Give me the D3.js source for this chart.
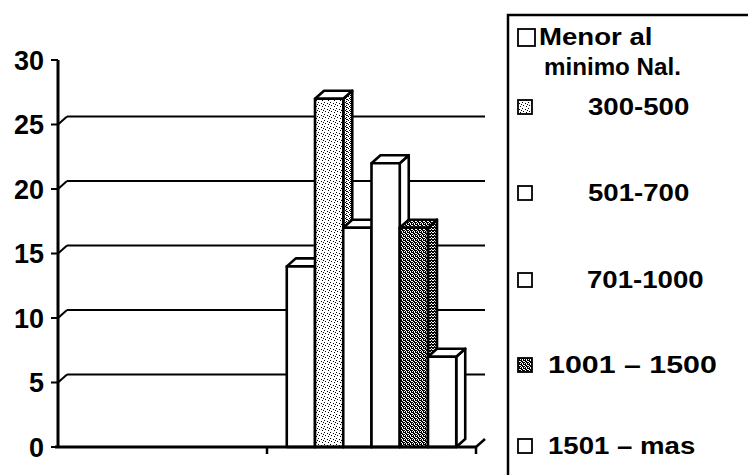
<!DOCTYPE html>
<html><head><meta charset="utf-8">
<script src="https://cdn.jsdelivr.net/npm/d3@7"></script>
<style>body{margin:0;background:#fff}svg{display:block}</style>
</head><body><svg id="c" width="748" height="475"></svg>
<script>
// ---- data ----
const categories = ["Menor al minimo Nal.", "300-500", "501-700", "701-1000", "1001 – 1500", "1501 – mas"];
const values = [14, 27, 17, 22, 17, 7];
const fills = ["white", "light", "white", "white", "dark", "white"];
const yTickValues = [0, 5, 10, 15, 20, 25, 30];
const gridValues = [5, 10, 15, 20, 25];
const xGroups = ["", "grupo"];
const legendLines = [["Menor al", "minimo Nal."], ["300-500"], ["501-700"], ["701-1000"], ["1001 – 1500"], ["1501 – mas"]];

// ---- layout ----
const svg = d3.select("#c");
const left = 58, right = 476, floorY = 447, topY = 60;
const dx = 9, dy = -8;
const FONT = "'Liberation Sans', Arial, Helvetica, sans-serif";

const y = d3.scaleLinear().domain([0, 30]).range([floorY, topY]);
const xg = d3.scaleBand().domain(xGroups).range([left, right]).padding(0);
const xs = d3.scaleBand().domain(categories).range([0, xg.bandwidth()]).paddingInner(0).paddingOuter(0.7);

// ---- patterns ----
const defs = svg.append("defs");
function pattern(id, size, dots) {
  const p = defs.append("pattern").attr("id", id).attr("patternUnits", "userSpaceOnUse")
    .attr("width", size).attr("height", size);
  p.append("rect").attr("width", size).attr("height", size).attr("fill", "#fff");
  dots.forEach(d => p.append("rect").attr("x", d[0]).attr("y", d[1]).attr("width", 1).attr("height", 1).attr("fill", "#000"));
}
pattern("light", 6, [[0,0],[3,1],[1,3],[4,4],[5,2]]);
pattern("lightSide", 4, [[0,0],[2,1],[1,2],[3,3],[2,3]]);
pattern("dark", 4, [[0,0],[1,0],[3,0],[1,1],[2,1],[0,2],[2,2],[3,2],[1,3],[3,3]]);
pattern("darkSide", 3, [[0,0],[1,0],[2,1],[0,2],[1,2],[2,2]]);
const fillFront = f => f === "light" ? "url(#light)" : f === "dark" ? "url(#dark)" : "#fff";
const fillSide = f => f === "light" ? "url(#lightSide)" : f === "dark" ? "url(#darkSide)" : "#fff";

// ---- back wall gridlines ----
const g = svg.append("g").attr("stroke", "#000").attr("fill", "none");
gridValues.forEach(v => {
  g.append("line").attr("x1", left + dx).attr("x2", right + dx)
    .attr("y1", y(v) + dy).attr("y2", y(v) + dy).attr("stroke-width", 2.2);
  g.append("line").attr("x1", left).attr("y1", y(v)).attr("x2", left + dx).attr("y2", y(v) + dy).attr("stroke-width", 2);
});

// ---- bars ----
const bars = svg.append("g");
categories.forEach((c, i) => {
  const xl = xg(xGroups[1]) + xs(c), w = xs.bandwidth(), xr = xl + w;
  const yt = y(values[i]), yb = floorY;
  const b = bars.append("g").attr("stroke", "#000").attr("stroke-width", 2.6).attr("stroke-linejoin", "round");
  b.append("path").attr("d", `M${xr},${yb}L${xr},${yt}L${xr+dx},${yt+dy}L${xr+dx},${yb+dy}Z`).attr("fill", fillSide(fills[i]));
  b.append("path").attr("d", `M${xl},${yt}L${xl+dx},${yt+dy}L${xr+dx},${yt+dy}L${xr},${yt}Z`).attr("fill", fills[i] === "dark" ? "url(#dark)" : "#fff");
  b.append("rect").attr("x", xl).attr("y", yt).attr("width", w).attr("height", yb - yt).attr("fill", fillFront(fills[i]));
});

// ---- axes ----
const ax = svg.append("g").attr("stroke", "#000");
ax.append("line").attr("x1", left).attr("x2", left).attr("y1", topY).attr("y2", floorY).attr("stroke-width", 3);
yTickValues.forEach(v => {
  ax.append("line").attr("x1", left - 7).attr("x2", left).attr("y1", y(v)).attr("y2", y(v)).attr("stroke-width", 2);
});
ax.append("line").attr("x1", left - 3).attr("x2", right).attr("y1", floorY).attr("y2", floorY).attr("stroke-width", 3);
xGroups.forEach((gname, i) => {
  const xx = xg(gname) + xg.bandwidth();
  ax.append("line").attr("x1", xx).attr("x2", xx).attr("y1", floorY).attr("y2", floorY + 7).attr("stroke-width", 2.5);
});
ax.append("line").attr("x1", right).attr("y1", floorY).attr("x2", right + dx).attr("y2", floorY + dy).attr("stroke-width", 2.5);

svg.append("g").selectAll("text").data(yTickValues).join("text")
  .attr("x", 44).attr("y", d => y(d) + 9.5).attr("text-anchor", "end")
  .attr("font-family", FONT).attr("font-weight", "bold").attr("font-size", 27).attr("fill", "#000")
  .text(d => d);

// ---- legend ----
const lg = svg.append("g");
lg.append("path").attr("d", "M508,480L508,15L750,15").attr("fill", "none").attr("stroke", "#000").attr("stroke-width", 2.5);
const legendRows = [
  {sx: 518, sy: 29, ss: 17, tx: 539, ty: 45, k: [1.2, 1.05]},
  {sx: 518, sy: 100, ss: 14, tx: 588, ty: 115, k: [1.2]},
  {sx: 518, sy: 186, ss: 14, tx: 588, ty: 201, k: [1.2]},
  {sx: 518, sy: 273, ss: 14, tx: 587, ty: 288, k: [1.2]},
  {sx: 518, sy: 358, ss: 14, tx: 548, ty: 373, k: [1.32]},
  {sx: 518, sy: 439, ss: 14, tx: 548, ty: 454, k: [1.2]}
];
legendLines.forEach((lines, i) => {
  const r = legendRows[i];
  lg.append("rect").attr("x", r.sx).attr("y", r.sy).attr("width", r.ss).attr("height", r.ss)
    .attr("fill", fillFront(fills[i])).attr("stroke", "#000").attr("stroke-width", 1.8);
  lines.forEach((t, j) => {
    lg.append("text").attr("transform", `translate(${r.tx + (j ? 5 : 0)},${r.ty + j * 30}) scale(${r.k[j]},1)`)
      .attr("font-family", FONT).attr("font-weight", "bold").attr("font-size", 23).attr("fill", "#000")
      .text(t);
  });
});
</script></body></html>
